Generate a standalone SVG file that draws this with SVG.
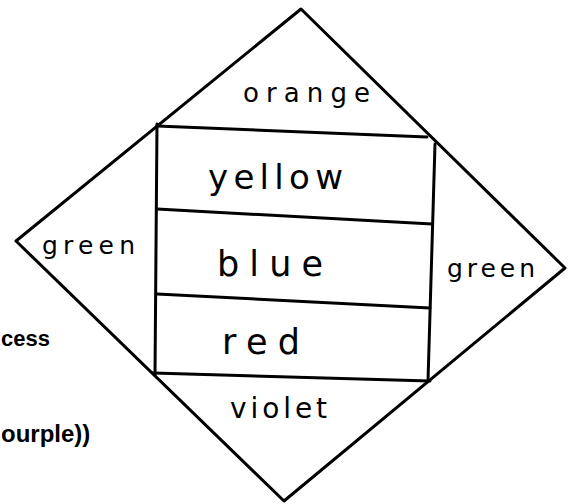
<svg xmlns="http://www.w3.org/2000/svg" width="577" height="504" viewBox="0 0 577 504">
<style>
.ln{fill:none;stroke:#000;stroke-width:3;stroke-linecap:round;stroke-linejoin:round}
.hw{font-family:"DejaVu Sans","Liberation Sans",sans-serif;fill:#000}
.pr{font-family:"Liberation Sans",Arial,sans-serif;font-weight:bold;fill:#000}
</style>
<rect width="577" height="504" fill="#fff"/>
<g id="diamond">
<polygon class="ln" points="301,9 16,241 284,501 565,268"/>
</g>
<g id="box">
<line class="ln" x1="157" y1="126" x2="427" y2="137"/>
<line class="ln" x1="157" y1="124" x2="155" y2="375"/>
<line class="ln" x1="435" y1="144" x2="428" y2="381"/>
<line class="ln" x1="157" y1="209" x2="432" y2="224"/>
<line class="ln" x1="157" y1="294" x2="430" y2="308"/>
<line class="ln" x1="153" y1="373" x2="430" y2="381"/>
</g>
<g id="labels">
<text class="hw" x="243" y="102" font-size="26" textLength="127" lengthAdjust="spacing">orange</text>
<text class="hw" x="208" y="189" font-size="34" textLength="135" lengthAdjust="spacing">yellow</text>
<text class="hw" x="217" y="276" font-size="35" textLength="106" lengthAdjust="spacing">blue</text>
<text class="hw" x="222" y="354" font-size="35" textLength="78" lengthAdjust="spacing">red</text>
<text class="hw" x="230" y="418" font-size="28" textLength="97" lengthAdjust="spacing">violet</text>
<text class="hw" x="42" y="254" font-size="25" textLength="93" lengthAdjust="spacing">green</text>
<text class="hw" x="447" y="277" font-size="25" textLength="88" lengthAdjust="spacing">green</text>
</g>
<g id="cut-text">
<text class="pr" x="1" y="346" font-size="22">cess</text>
<text class="pr" x="1" y="442" font-size="24">ourple))</text>
</g>
</svg>
